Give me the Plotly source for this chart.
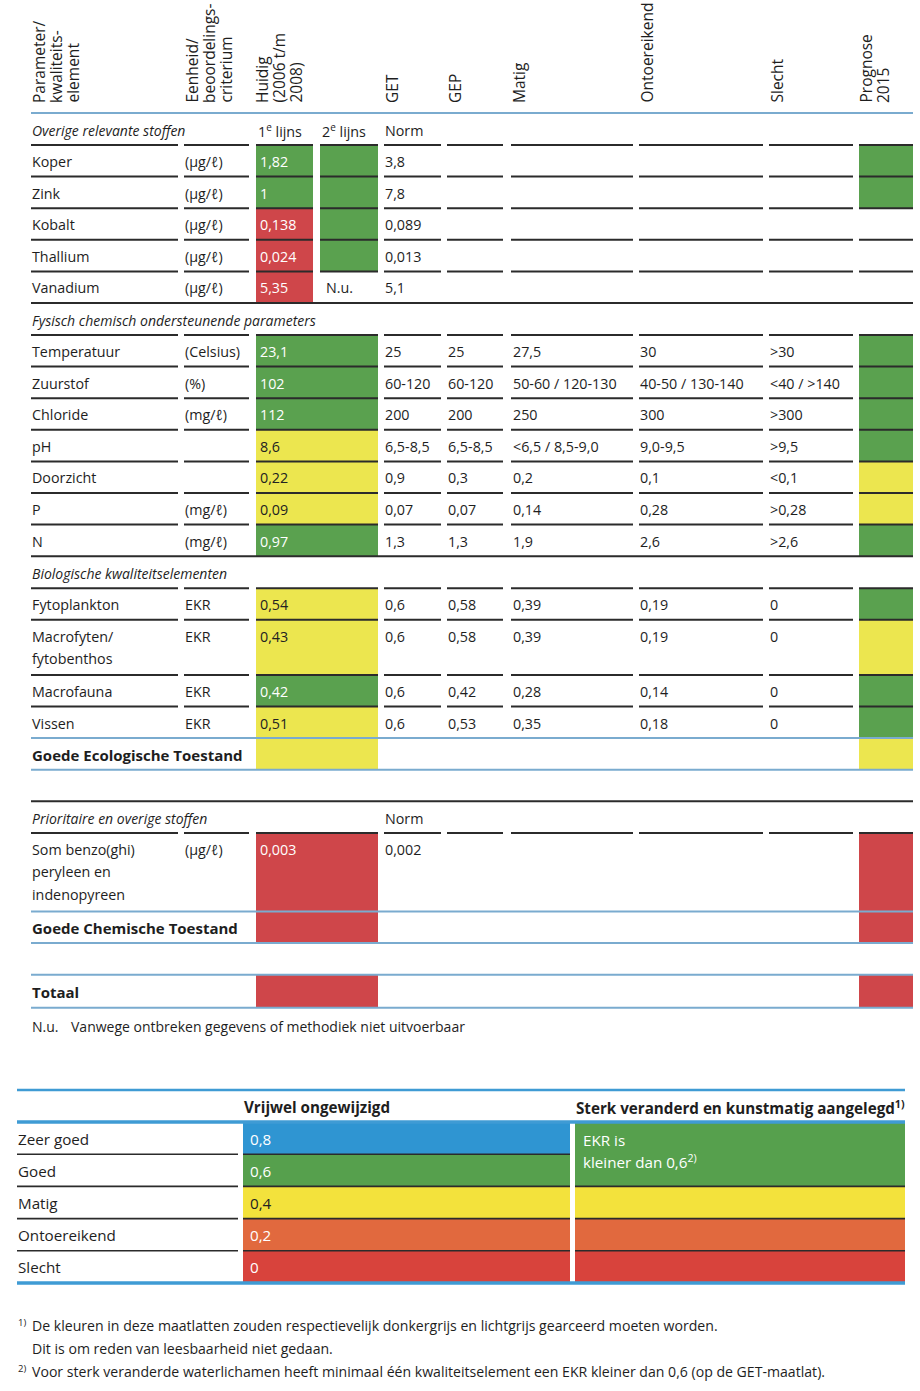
import plotly.graph_objects as go

# ---------------- data ----------------
header_param = ["Parameter/", "kwaliteits-", "element"]
header_unit = ["Eenheid/", "beoordelings-", "criterium"]
header_huidig = ["Huidig", "(2006 t/m", "2008)"]
header_classes = ["GET", "GEP", "Matig", "Ontoereikend", "Slecht"]
header_prognose = ["Prognose", "2015"]

section_titles = ["Overige relevante stoffen",
                  "Fysisch chemisch ondersteunende parameters",
                  "Biologische kwaliteitselementen",
                  "Prioritaire en overige stoffen"]
s1_subheads = ["1<sup>e</sup> lijns", "2<sup>e</sup> lijns", "Norm"]
s4_subheads = ["Norm"]

# Overige relevante stoffen
s1_params = ["Koper", "Zink", "Kobalt", "Thallium", "Vanadium"]
s1_units = ["(µg/ℓ)", "(µg/ℓ)", "(µg/ℓ)", "(µg/ℓ)", "(µg/ℓ)"]
s1_huidig = ["1,82", "1", "0,138", "0,024", "5,35"]
s1_huidig_state = ["groen", "groen", "rood", "rood", "rood"]
s1_tweede = ["", "", "", "", "N.u."]
s1_tweede_state = ["groen", "groen", "groen", "groen", None]
s1_norm = ["3,8", "7,8", "0,089", "0,013", "5,1"]
s1_prognose = ["groen", "groen", None, None, None]

# Fysisch chemisch ondersteunende parameters
s2_params = ["Temperatuur", "Zuurstof", "Chloride", "pH", "Doorzicht", "P", "N"]
s2_units = ["(Celsius)", "(%)", "(mg/ℓ)", "", "", "(mg/ℓ)", "(mg/ℓ)"]
s2_huidig = ["23,1", "102", "112", "8,6", "0,22", "0,09", "0,97"]
s2_huidig_state = ["groen", "groen", "groen", "geel", "geel", "geel", "groen"]
s2_get = ["25", "60-120", "200", "6,5-8,5", "0,9", "0,07", "1,3"]
s2_gep = ["25", "60-120", "200", "6,5-8,5", "0,3", "0,07", "1,3"]
s2_matig = ["27,5", "50-60 / 120-130", "250", "<6,5 / 8,5-9,0", "0,2", "0,14", "1,9"]
s2_ontoereikend = ["30", "40-50 / 130-140", "300", "9,0-9,5", "0,1", "0,28", "2,6"]
s2_slecht = [">30", "<40 / >140", ">300", ">9,5", "<0,1", ">0,28", ">2,6"]
s2_prognose = ["groen", "groen", "groen", "groen", "geel", "geel", "groen"]

# Biologische kwaliteitselementen
s3_params = ["Fytoplankton", "Macrofyten/\nfytobenthos", "Macrofauna", "Vissen"]
s3_units = ["EKR", "EKR", "EKR", "EKR"]
s3_huidig = ["0,54", "0,43", "0,42", "0,51"]
s3_huidig_state = ["geel", "geel", "groen", "geel"]
s3_get = ["0,6", "0,6", "0,6", "0,6"]
s3_gep = ["0,58", "0,58", "0,42", "0,53"]
s3_matig = ["0,39", "0,39", "0,28", "0,35"]
s3_ontoereikend = ["0,19", "0,19", "0,14", "0,18"]
s3_slecht = ["0", "0", "0", "0"]
s3_prognose = ["groen", "geel", "groen", "groen"]
eco_label = "Goede Ecologische Toestand"
eco_huidig_state = "geel"
eco_prognose = "geel"

# Prioritaire en overige stoffen
s4_params = ["Som benzo(ghi)\nperyleen en\nindenopyreen"]
s4_units = ["(µg/ℓ)"]
s4_huidig = ["0,003"]
s4_huidig_state = ["rood"]
s4_norm = ["0,002"]
s4_prognose = ["rood"]
chem_label = "Goede Chemische Toestand"
chem_huidig_state = "rood"
chem_prognose = "rood"
total_label = "Totaal"
total_huidig_state = "rood"
total_prognose = "rood"

note_abbr = "N.u."
note_text = "Vanwege ontbreken gegevens of methodiek niet uitvoerbaar"

# Maatlat (legend table)
legend_head = ["Vrijwel ongewijzigd", "Sterk veranderd en kunstmatig aangelegd<sup>1)</sup>"]
legend_classes = ["Zeer goed", "Goed", "Matig", "Ontoereikend", "Slecht"]
legend_values = ["0,8", "0,6", "0,4", "0,2", "0"]
legend_right_text = ["EKR is", "kleiner dan 0,6<sup>2)</sup>"]

footnote_marks = ["1)", "", "2)"]
footnote_lines = ["De kleuren in deze maatlatten zouden respectievelijk donkergrijs en lichtgrijs gearceerd moeten worden.",
                  "Dit is om reden van leesbaarheid niet gedaan.",
                  "Voor sterk veranderde waterlichamen heeft minimaal één kwaliteitselement een EKR kleiner dan 0,6 (op de GET-maatlat)."]

# ---------------- styles ----------------
STATE_FILL = {"groen": "#5aa14f", "geel": "#ece64f", "rood": "#cf464a"}
STATE_TEXT = {"groen": "#ffffff", "geel": "#222222", "rood": "#ffffff"}
LEG_FILL = ["#2f95d2", "#56a04d", "#f3e23c", "#e1693e", "#d8433c"]
LEG_TEXT = ["#ffffff", "#ffffff", "#222222", "#ffffff", "#ffffff"]
DARK = "#2b2b2b"
BLUE = "#7aabcf"
LBLUE = "#3f9bd4"
TXT = "#1e1e1e"
FONT = "Open Sans"

COL = dict(param=(31, 178), unit=(184, 249), h1=(256, 313), h2=(320, 378), hm=(256, 378),
           get=(384, 441), gep=(447, 503), matig=(511, 633), ontoer=(639, 763),
           slecht=(769, 853), prog=(859, 913))
SEG_SPLIT = ["param", "unit", "h1", "h2", "get", "gep", "matig", "ontoer", "slecht", "prog"]
SEG_MERGED = ["param", "unit", "hm", "get", "gep", "matig", "ontoer", "slecht", "prog"]
TX = dict(param=31, unit=184, h=259, h2=325, get=384, gep=447, matig=512, ontoer=639, slecht=769)
ROW_H = 31.6
EXTRA_H = 23.5
LINE_GAP = 22.5
FS = 14.3
FS_SEC = 14
FS_BOLD = 15
FS_LEG = 15.2

fig = go.Figure()
shapes = []
annots = []


def rect(x0, x1, y0, y1, color):
    shapes.append(dict(type="rect", xref="x", yref="y", x0=x0, x1=x1, y0=y0, y1=y1,
                       fillcolor=color, line=dict(width=0), layer="below"))


def hline(x0, x1, y, color=DARK, width=2):
    shapes.append(dict(type="line", xref="x", yref="y", x0=x0, x1=x1, y0=y, y1=y,
                       line=dict(color=color, width=width), layer="above"))


def text(x, y, s, size=FS, color=TXT, bold=False, italic=False, anchor="left", angle=0, yanchor="middle"):
    if not s:
        return
    if bold:
        s = "<b>" + s + "</b>"
    if italic:
        s = "<i>" + s + "</i>"
    annots.append(dict(x=x, y=y, xref="x", yref="y", text=s, showarrow=False,
                       xanchor=anchor, yanchor=yanchor, textangle=angle, borderpad=0,
                       font=dict(family=FONT, size=size, color=color)))


def segments(y, keys):
    for k in keys:
        hline(COL[k][0], COL[k][1], y)


def multiline(x, ytop, s, **kw):
    for j, part in enumerate(s.split("\n")):
        text(x, ytop + 16.5 + j * LINE_GAP, part, **kw)


# ---------------- header ----------------
HB = 104
def header(xleft, lines, size=15.5):
    for j, s in enumerate(lines):
        text(xleft + 7.5 + j * 17, HB, s, size=size, angle=-90, anchor="center", yanchor="bottom")

header(31, header_param)
header(184, header_unit)
header(254, header_huidig)
for k, lab in zip(["get", "gep", "matig", "ontoer", "slecht"], header_classes):
    header(COL[k][0], [lab])
header(858, header_prognose)
hline(31, 913, 113, BLUE, 2)

# ---------------- section 1 ----------------
y = 113
text(TX["param"], y + 17, section_titles[0], size=FS_SEC, italic=True)
for s, x in zip(s1_subheads, [257, 321, 384]):
    text(x, y + 17, s, size=FS)
y += 32
segments(y, SEG_SPLIT)
for i in range(len(s1_params)):
    y0, y1 = y, y + ROW_H
    rect(*COL["h1"], y0, y1, STATE_FILL[s1_huidig_state[i]])
    if s1_tweede_state[i]:
        rect(*COL["h2"], y0, y1, STATE_FILL[s1_tweede_state[i]])
    if s1_prognose[i]:
        rect(*COL["prog"], y0, y1, STATE_FILL[s1_prognose[i]])
    multiline(TX["param"], y0, s1_params[i])
    multiline(TX["unit"], y0, s1_units[i])
    multiline(TX["h"], y0, s1_huidig[i], color=STATE_TEXT[s1_huidig_state[i]])
    multiline(TX["h2"], y0, s1_tweede[i])
    multiline(TX["get"], y0, s1_norm[i])
    y = y1
    if i < len(s1_params) - 1:
        segments(y, SEG_SPLIT)
    else:
        hline(31, 913, y)


def class_rows(y, params, units, huidig, hstate, cols, prog):
    for i in range(len(params)):
        n = params[i].count("\n") + 1
        y0, y1 = y, y + ROW_H + EXTRA_H * (n - 1)
        rect(*COL["hm"], y0, y1, STATE_FILL[hstate[i]])
        rect(*COL["prog"], y0, y1, STATE_FILL[prog[i]])
        multiline(TX["param"], y0, params[i])
        multiline(TX["unit"], y0, units[i])
        multiline(TX["h"], y0, huidig[i], color=STATE_TEXT[hstate[i]])
        for k, vals in zip(["get", "gep", "matig", "ontoer", "slecht"], cols):
            multiline(TX[k], y0, vals[i])
        y = y1
        if i < len(params) - 1:
            segments(y, SEG_MERGED)
    return y

# ---------------- section 2 ----------------
text(TX["param"], y + 17, section_titles[1], size=FS_SEC, italic=True)
y += 32
segments(y, SEG_MERGED)
y = class_rows(y, s2_params, s2_units, s2_huidig, s2_huidig_state,
               [s2_get, s2_gep, s2_matig, s2_ontoereikend, s2_slecht], s2_prognose)
hline(31, 913, y)

# ---------------- section 3 ----------------
text(TX["param"], y + 17, section_titles[2], size=FS_SEC, italic=True)
y += 32
segments(y, SEG_MERGED)
y = class_rows(y, s3_params, s3_units, s3_huidig, s3_huidig_state,
               [s3_get, s3_gep, s3_matig, s3_ontoereikend, s3_slecht], s3_prognose)
hline(31, 913, y, BLUE)
rect(*COL["hm"], y, y + ROW_H, STATE_FILL[eco_huidig_state])
rect(*COL["prog"], y, y + ROW_H, STATE_FILL[eco_prognose])
text(TX["param"], y + 16.5, eco_label, size=FS_BOLD, bold=True)
y += ROW_H
hline(31, 913, y, BLUE)
y += ROW_H
hline(31, 913, y)

# ---------------- section 4 ----------------
text(TX["param"], y + 17, section_titles[3], size=FS_SEC, italic=True)
text(TX["get"], y + 17, s4_subheads[0], size=FS)
y += ROW_H
segments(y, SEG_MERGED)
for i in range(len(s4_params)):
    n = s4_params[i].count("\n") + 1
    y0, y1 = y, y + ROW_H + EXTRA_H * (n - 1)
    rect(*COL["hm"], y0, y1, STATE_FILL[s4_huidig_state[i]])
    rect(*COL["prog"], y0, y1, STATE_FILL[s4_prognose[i]])
    multiline(TX["param"], y0, s4_params[i])
    multiline(TX["unit"], y0, s4_units[i])
    multiline(TX["h"], y0, s4_huidig[i], color=STATE_TEXT[s4_huidig_state[i]])
    multiline(TX["get"], y0, s4_norm[i])
    y = y1
hline(31, 913, y, BLUE)
rect(*COL["hm"], y, y + ROW_H, STATE_FILL[chem_huidig_state])
rect(*COL["prog"], y, y + ROW_H, STATE_FILL[chem_prognose])
text(TX["param"], y + 16.5, chem_label, size=FS_BOLD, bold=True)
y += ROW_H
hline(31, 913, y, BLUE)
y += ROW_H
hline(31, 913, y, BLUE)
rect(*COL["hm"], y, y + 33, STATE_FILL[total_huidig_state])
rect(*COL["prog"], y, y + 33, STATE_FILL[total_prognose])
text(TX["param"], y + 17, total_label, size=FS_BOLD, bold=True)
y += 33
hline(31, 913, y, BLUE)
text(31, y + 19, note_abbr, size=14)
text(70, y + 19, note_text, size=14)

# ---------------- maatlat ----------------
LT = 1090
hline(17, 905, LT, LBLUE, 2.5)
text(243, LT + 17, legend_head[0], size=FS_LEG, bold=True)
text(575, LT + 17, legend_head[1], size=FS_LEG, bold=True)
y = 1122
LR = 32.2
for i in range(len(legend_classes)):
    y0, y1 = y + i * LR, y + (i + 1) * LR
    rect(243, 570, y0, y1, LEG_FILL[i])
    if i >= 1:
        rect(575, 905, (y if i == 1 else y0), y1, LEG_FILL[i])
    text(17, y0 + 16.5, legend_classes[i], size=FS_LEG)
    text(249, y0 + 16.5, legend_values[i], size=FS_LEG, color=LEG_TEXT[i])
    if i < len(legend_classes) - 1:
        hline(17, 238, y1, DARK, 1.6)
        hline(243, 570, y1, DARK, 1.6)
        if i >= 1:
            hline(575, 905, y1, DARK, 1.6)
text(582, y + 18, legend_right_text[0], size=FS_LEG, color="#ffffff")
text(582, y + 39, legend_right_text[1], size=FS_LEG, color="#ffffff")
hline(17, 905, y, LBLUE, 3.5)
hline(17, 905, y + 5 * LR, LBLUE, 3.5)

# ---------------- footnotes ----------------
for j, (m, s) in enumerate(zip(footnote_marks, footnote_lines)):
    yy = 1325 + j * 23
    if m:
        text(17, yy - 3, m, size=9.5)
    text(31, yy, s, size=14.1)

fig.update_layout(
    width=920, height=1391,
    margin=dict(l=0, r=0, t=0, b=0),
    paper_bgcolor="white", plot_bgcolor="white",
    xaxis=dict(range=[0, 920], visible=False, fixedrange=True),
    yaxis=dict(range=[1391, 0], visible=False, fixedrange=True),
    shapes=shapes, annotations=annots, showlegend=False,
)
fig.write_html("out.html", config=dict(displayModeBar=False),
               post_script="document.body.style.margin='0px';document.body.style.overflow='hidden';")
